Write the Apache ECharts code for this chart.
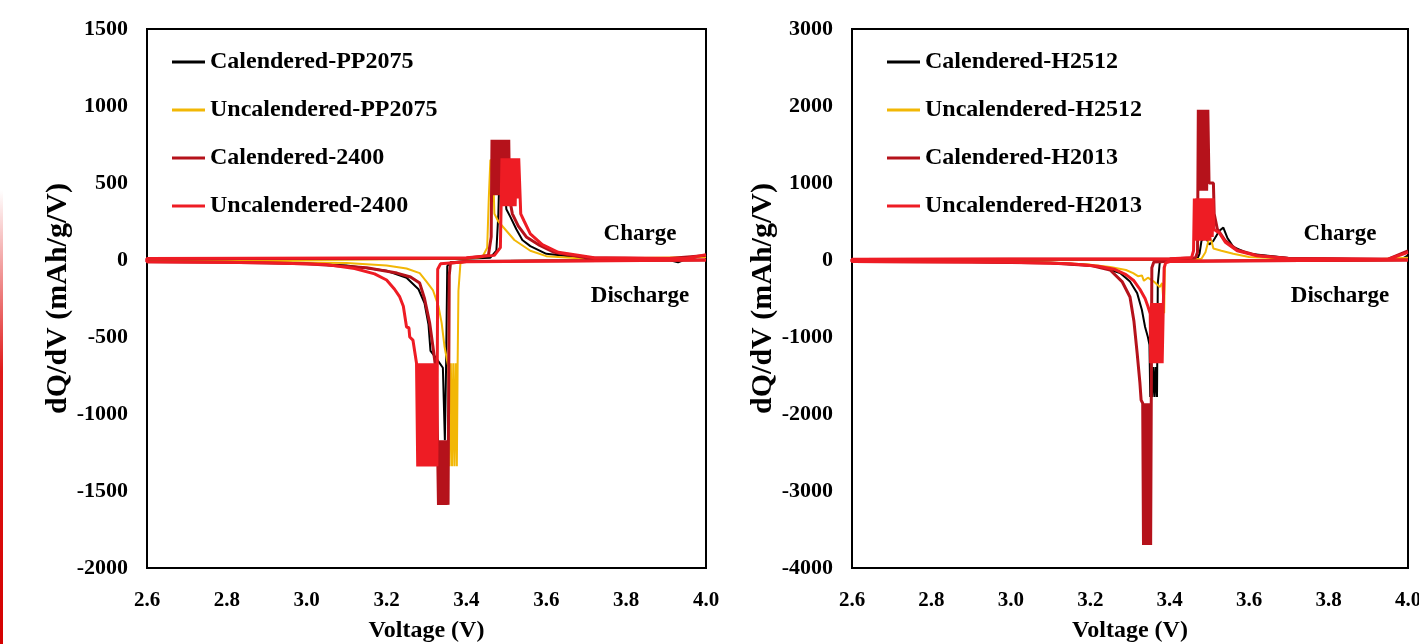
<!DOCTYPE html>
<html>
<head>
<meta charset="utf-8">
<title>dQ/dV</title>
<script src="https://cdn.jsdelivr.net/npm/echarts@6/dist/echarts.min.js"></script>
<style>
  html, body { margin: 0; padding: 0; background: #fff; }
  #chart { width: 1419px; height: 644px; }
</style>
</head>
<body>
<div id="chart"></div>
<script>
// 坐标轴刻度
var xTicks = { min: 2.6, max: 4.0, interval: 0.2 };
var leftYTicks = { min: -2000, max: 1500, interval: 500 };
var rightYTicks = { min: -4000, max: 3000, interval: 1000 };

var leftNames = ['Calendered-PP2075', 'Uncalendered-PP2075', 'Calendered-2400', 'Uncalendered-2400'];
var rightNames = ['Calendered-H2512', 'Uncalendered-H2512', 'Calendered-H2013', 'Uncalendered-H2013'];
var colors = ['#000000', '#f2b705', '#b5121b', '#ee1c24'];
var widths = [2, 2, 3, 3];

// [电压, dQ/dV] —— 放电 4.0 -> 2.6, 然后充电 2.6 -> 4.0
var calPP2075 = [
  [4.0, 0], [3.6, -5], [3.4, -8], [3.36, -15], [3.352, -40], [3.349, -700], [3.346, -1170], [3.343, -1170],
  [3.341, -700], [3.336, -690], [3.325, -640], [3.31, -590], [3.305, -420], [3.295, -280], [3.28, -190],
  [3.25, -115], [3.2, -70], [3.1, -35], [3.0, -20], [2.8, -12], [2.6, -10],
  [2.6, 5], [3.0, 5], [3.4, 8], [3.46, 15], [3.475, 60], [3.48, 300], [3.484, 700], [3.49, 720], [3.495, 500],
  [3.5, 330], [3.51, 280], [3.525, 200], [3.54, 130], [3.56, 90], [3.6, 40], [3.7, 12], [3.9, 5],
  [3.93, -15], [3.95, 5], [4.0, 30]
];
var uncalPP2075 = [
  [4.0, 0], [3.6, -5], [3.4, -8], [3.385, -20], [3.38, -200], [3.378, -670], [3.376, -1340], [3.373, -670],
  [3.37, -1340], [3.367, -670], [3.364, -1340], [3.361, -670], [3.358, -1340], [3.355, -700], [3.352, -690],
  [3.345, -560], [3.338, -410], [3.33, -300], [3.316, -195], [3.3, -140], [3.283, -85], [3.25, -55], [3.2, -35],
  [3.1, -20], [2.8, -10], [2.6, -8],
  [2.6, 3], [3.4, 8], [3.44, 20], [3.452, 80], [3.456, 400], [3.46, 650], [3.466, 640], [3.47, 300],
  [3.48, 250], [3.5, 190], [3.52, 130], [3.56, 60], [3.6, 25], [3.7, 8], [4.0, 20]
];
var cal2400 = [
  [4.0, 0], [3.6, -5], [3.4, -10], [3.36, -20], [3.357, -100], [3.354, -1590], [3.351, -1170], [3.348, -1590],
  [3.345, -1170], [3.342, -1590], [3.339, -1170], [3.336, -1590], [3.333, -1170], [3.33, -1590], [3.327, -1590],
  [3.325, -740], [3.316, -560], [3.308, -410], [3.295, -250], [3.283, -150], [3.26, -110], [3.226, -85],
  [3.15, -50], [3.0, -25], [2.8, -15], [2.6, -12],
  [2.6, 8], [3.4, 12], [3.455, 30], [3.462, 150], [3.464, 780], [3.467, 420], [3.47, 780], [3.473, 420],
  [3.476, 780], [3.479, 420], [3.482, 780], [3.485, 420], [3.488, 780], [3.491, 420], [3.494, 780],
  [3.497, 420], [3.5, 780], [3.503, 420], [3.506, 780], [3.508, 400], [3.515, 300], [3.53, 220],
  [3.55, 150], [3.58, 100], [3.62, 50], [3.7, 15], [3.9, 8], [4.0, 30]
];
var uncal2400 = [
  [4.0, 0], [3.6, -8], [3.4, -12], [3.335, -25], [3.328, -60], [3.326, -1340], [3.323, -670], [3.32, -1340],
  [3.317, -670], [3.314, -1340], [3.311, -670], [3.308, -1340], [3.305, -670], [3.302, -1340], [3.299, -670],
  [3.296, -1340], [3.293, -670], [3.29, -1340], [3.287, -670], [3.284, -1340], [3.281, -670], [3.278, -1340],
  [3.276, -1340], [3.275, -670], [3.266, -520], [3.258, -500], [3.256, -440], [3.25, -435], [3.242, -300],
  [3.233, -240], [3.22, -190], [3.2, -130], [3.17, -90], [3.12, -55], [3.05, -30], [2.9, -18], [2.6, -12],
  [2.6, 10], [3.4, 15], [3.47, 30], [3.485, 80], [3.489, 660], [3.492, 350], [3.495, 660], [3.498, 350],
  [3.501, 660], [3.504, 350], [3.507, 660], [3.51, 350], [3.513, 660], [3.516, 350], [3.519, 660],
  [3.522, 350], [3.525, 660], [3.528, 400], [3.531, 660], [3.534, 660], [3.536, 300],
  [3.545, 250], [3.56, 170], [3.59, 100], [3.63, 50], [3.72, 15], [3.95, 10], [4.0, 35]
];

var calH2512 = [
  [4.0, 0], [3.6, -10], [3.4, -15], [3.375, -30], [3.37, -300], [3.368, -1780], [3.365, -1390], [3.362, -1780],
  [3.359, -1390], [3.356, -1780], [3.353, -1390], [3.351, -1780], [3.349, -1100], [3.345, -1000], [3.338, -870],
  [3.33, -650], [3.318, -430], [3.3, -280], [3.275, -170], [3.24, -110], [3.2, -70], [3.1, -40], [2.9, -25], [2.6, -20],
  [2.6, 5], [3.4, 10], [3.47, 20], [3.475, 80], [3.48, 250], [3.49, 300], [3.5, 200], [3.51, 250],
  [3.525, 380], [3.535, 420], [3.545, 290], [3.56, 170], [3.6, 80], [3.7, 25], [3.9, 10], [3.98, 0], [4.0, 60]
];
var uncalH2512 = [
  [4.0, 0], [3.6, -10], [3.4, -15], [3.388, -30], [3.386, -690], [3.383, -690], [3.381, -300], [3.375, -350],
  [3.36, -280], [3.345, -230], [3.335, -270], [3.33, -200], [3.32, -210], [3.308, -170], [3.29, -130],
  [3.25, -90], [3.2, -60], [3.1, -35], [2.9, -20], [2.6, -15],
  [2.6, 3], [3.4, 8], [3.48, 15], [3.49, 100], [3.5, 300], [3.505, 250], [3.51, 150], [3.53, 120],
  [3.56, 80], [3.6, 40], [3.7, 15], [3.92, 10], [4.0, 30]
];
var calH2013 = [
  [4.0, 0], [3.6, -10], [3.4, -15], [3.36, -25], [3.355, -100], [3.352, -3700], [3.349, -1860], [3.346, -3700],
  [3.343, -1860], [3.34, -3700], [3.337, -1860], [3.334, -3700], [3.332, -1860], [3.328, -1820], [3.325, -1600],
  [3.318, -1210], [3.31, -800], [3.3, -480], [3.28, -280], [3.25, -130], [3.2, -70], [3.1, -40], [2.9, -25], [2.6, -20],
  [2.6, 8], [3.4, 12], [3.465, 30], [3.47, 100], [3.472, 1950], [3.475, 900], [3.478, 1950], [3.481, 900],
  [3.484, 1950], [3.487, 900], [3.49, 1950], [3.493, 900], [3.496, 1950], [3.497, 1950], [3.499, 1000],
  [3.51, 1000], [3.512, 600], [3.52, 400], [3.54, 250], [3.57, 130], [3.62, 60], [3.7, 20], [3.95, 10], [4.0, 120]
];
var uncalH2013 = [
  [4.0, 0], [3.6, -10], [3.4, -20], [3.39, -35], [3.386, -100], [3.384, -560], [3.381, -1340], [3.378, -560],
  [3.375, -1340], [3.372, -560], [3.369, -1340], [3.366, -560], [3.363, -1340], [3.36, -560], [3.357, -1340],
  [3.354, -560], [3.352, -1340], [3.351, -700], [3.345, -600], [3.338, -500], [3.325, -380], [3.31, -270],
  [3.29, -190], [3.26, -120], [3.22, -80], [3.15, -50], [3.0, -30], [2.6, -20],
  [2.6, 10], [3.4, 15], [3.455, 30], [3.46, 120], [3.462, 800], [3.465, 250], [3.468, 800], [3.471, 250],
  [3.474, 800], [3.477, 250], [3.48, 800], [3.483, 250], [3.486, 800], [3.489, 250], [3.492, 800],
  [3.495, 250], [3.498, 800], [3.501, 250], [3.504, 800], [3.507, 300], [3.509, 800], [3.511, 400],
  [3.525, 350], [3.54, 230], [3.57, 120], [3.62, 55], [3.7, 20], [3.95, 10], [4.0, 100]
];

var leftData = [calPP2075, uncalPP2075, cal2400, uncal2400];
var rightData = [calH2512, uncalH2512, calH2013, uncalH2013];

var font = 'Liberation Serif, Times New Roman, serif';
var boldText = { fontFamily: font, fontWeight: 'bold', color: '#000' };

function makeXAxis(idx) {
  return {
    type: 'value', gridIndex: idx,
    min: xTicks.min, max: xTicks.max, interval: xTicks.interval,
    name: 'Voltage (V)', nameLocation: 'middle', nameGap: 51,
    nameTextStyle: Object.assign({ fontSize: 24 }, boldText),
    axisLine: { show: false }, axisTick: { show: false }, splitLine: { show: false },
    axisLabel: Object.assign({ fontSize: 21, margin: 22, formatter: function (v) { return v.toFixed(1); } }, boldText)
  };
}
function makeYAxis(idx, ticks, gap) {
  return {
    type: 'value', gridIndex: idx,
    min: ticks.min, max: ticks.max, interval: ticks.interval,
    name: 'dQ/dV (mAh/g/V)', nameLocation: 'middle', nameGap: gap,
    nameTextStyle: Object.assign({ fontSize: 30 }, boldText),
    axisLine: { show: false }, axisTick: { show: false }, splitLine: { show: false },
    axisLabel: Object.assign({ fontSize: 22, margin: 19, formatter: function (v) { return String(v); } }, boldText)
  };
}
function makeLegend(names, left) {
  return {
    data: names, orient: 'vertical', left: left, top: 50, padding: 0,
    itemWidth: 33, itemHeight: 24, itemGap: 24,
    icon: 'path://M0,0 L33,0 L33,3 L0,3 Z',
    textStyle: Object.assign({ fontSize: 24, lineHeight: 24 }, boldText)
  };
}

var series = [];
leftNames.forEach(function (n, i) {
  series.push({ name: n, type: 'line', xAxisIndex: 0, yAxisIndex: 0, data: leftData[i], showSymbol: false, symbol: 'none',
    color: colors[i], lineStyle: { width: widths[i], color: colors[i] }, animation: false });
});
rightNames.forEach(function (n, i) {
  series.push({ name: n, type: 'line', xAxisIndex: 1, yAxisIndex: 1, data: rightData[i], showSymbol: false, symbol: 'none',
    color: colors[i], lineStyle: { width: widths[i], color: colors[i] }, animation: false });
});

function label(text, x, y) {
  return { type: 'text', x: x, y: y, style: { text: text, font: 'bold 23px ' + font, fill: '#000', align: 'center', verticalAlign: 'middle' } };
}

var chart = echarts.init(document.getElementById('chart'), null, { renderer: 'canvas' });
chart.setOption({
  animation: false,
  backgroundColor: '#fff',
  grid: [
    { left: 147, right: 713, top: 29, bottom: 76, outerBoundsMode: 'none', show: true, borderColor: '#000', borderWidth: 2, backgroundColor: 'transparent' },
    { left: 852, right: 11, top: 29, bottom: 76, outerBoundsMode: 'none', show: true, borderColor: '#000', borderWidth: 2, backgroundColor: 'transparent' }
  ],
  xAxis: [makeXAxis(0), makeXAxis(1)],
  yAxis: [makeYAxis(0, leftYTicks, 63), makeYAxis(1, rightYTicks, 67)],
  legend: [makeLegend(leftNames, 172), makeLegend(rightNames, 887)],
  graphic: [
    label('Charge', 640, 234), label('Discharge', 640, 296),
    label('Charge', 1340, 234), label('Discharge', 1340, 296),
    // 左边缘红色竖条
    { type: 'rect', shape: { x: 0, y: 190, width: 3, height: 454 },
      style: { fill: new echarts.graphic.LinearGradient(0, 0, 0, 1, [{ offset: 0, color: 'rgba(220,0,0,0)' }, { offset: 0.4, color: 'rgba(220,0,0,0.9)' }, { offset: 1, color: '#d40000' }]) } }
  ],
  series: series
});
</script>
</body>
</html>
